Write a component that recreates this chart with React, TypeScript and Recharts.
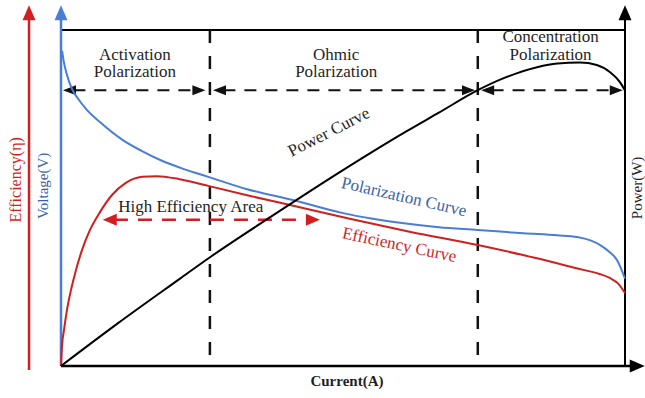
import { LineChart, Line, XAxis, YAxis, ReferenceLine, ReferenceDot } from "recharts";

const FONT = '"Liberation Serif", "Times New Roman", serif';
const RED = "#d11f1f";
const BLUE = "#4a7dd6";
const BLUE_TEXT = "#3a63a8";
const INK = "#1f1f1f";

// Current (A) — shared x scale 0..100, all curves normalised to 0..100 on y
const polCurrent = [0.2, 0.5, 1, 1.9, 3, 4.5, 6.9, 10.9, 14.2, 17.6, 21.8, 26.1, 33, 41.1, 50, 55, 60.1, 67, 73.9, 82, 88, 91.5, 94, 95.6, 97.2, 98.6, 100];
const polVoltage = [93.8, 90.5, 87, 82.6, 79.6, 76.4, 72.6, 67.3, 64.1, 61.3, 58.6, 56.3, 52.6, 49.4, 45.5, 43.9, 42.6, 41.3, 40.5, 39.5, 38.9, 38.4, 37.3, 36, 34, 31.5, 26];

const effCurrent = [0, 0.18, 0.53, 1.06, 1.77, 2.66, 3.72, 5.14, 6.91, 9.04, 11.5, 14.4, 17, 21, 23.5, 26.1, 33, 40.6, 51.2, 62, 73.9, 84, 92.6, 95.5, 97.3, 98.8, 100];
const efficiency = [0, 6, 10.7, 16.7, 22.6, 28.6, 34.5, 40.5, 45.8, 50.9, 54.5, 56.3, 56.5, 55.6, 54.7, 53.6, 50.8, 47.9, 43.8, 39.9, 36, 32.2, 28.6, 27.4, 26.2, 24.5, 21.7];

const powCurrent = [0, 10, 21.1, 26.1, 37.1, 50, 61.3, 67, 73.9, 78.4, 84.4, 88, 92, 95, 97.3, 99.1, 100];
const power = [0, 12.6, 26, 32, 44.3, 58.3, 69.9, 75.4, 82.1, 85.6, 88.9, 90, 90.3, 89.6, 87.5, 84.5, 82];

// region boundaries (current) and their labels
const regionBounds = [26.4, 73.9];
const regionLabels = [
  { lines: ["Activation", "Polarization"], x: 13.1, y: [91.1, 86.0] },
  { lines: ["Ohmic", "Polarization"], x: 48.8, y: [91.1, 86.0] },
  { lines: ["Concentration", "Polarization"], x: 86.8, y: [96.4, 91.1] },
];
// dashed double arrows under the region labels
const regionSpans = [
  [0.35, 25.6],
  [26.95, 73.4],
  [74.5, 99.6],
];
const regionArrowY = 82.1;
const highEffSpan = [7.4, 45.9];
const highEffY = 43.5;

const zip = (xs: number[], ys: number[]) => xs.map((x, i) => ({ x, y: ys[i] }));
const polData = zip(polCurrent, polVoltage);
const effData = zip(effCurrent, efficiency);
const powData = zip(powCurrent, power);

type ArrowOpts = { stroke: string; width: number; dash?: string; start?: boolean; end?: boolean; len?: number; half?: number };

// line with optional arrow heads, used as a ReferenceLine shape
const arrowShape = (o: ArrowOpts) => (p: any) => {
  const { x1, y1, x2, y2 } = p;
  const dx = x2 - x1, dy = y2 - y1;
  const d = Math.hypot(dx, dy) || 1;
  const ux = dx / d, uy = dy / d;
  const len = o.len ?? 13, half = o.half ?? 5.5;
  const head = (tx: number, ty: number, sx: number, sy: number) => {
    const bx = tx - sx * len, by = ty - sy * len;
    return `${tx},${ty} ${bx - sy * half},${by + sx * half} ${bx + sy * half},${by - sx * half}`;
  };
  const ax = o.start ? x1 + ux * len * 0.8 : x1;
  const ay = o.start ? y1 + uy * len * 0.8 : y1;
  const bx = o.end ? x2 - ux * len * 0.8 : x2;
  const by = o.end ? y2 - uy * len * 0.8 : y2;
  return (
    <g>
      <line x1={ax} y1={ay} x2={bx} y2={by} stroke={o.stroke} strokeWidth={o.width} strokeDasharray={o.dash} />
      {o.start && <polygon points={head(x1, y1, -ux, -uy)} fill={o.stroke} />}
      {o.end && <polygon points={head(x2, y2, ux, uy)} fill={o.stroke} />}
    </g>
  );
};

type TextOpts = { size?: number; color?: string; angle?: number; weight?: string };

const textShape = (str: string, o: TextOpts = {}) => (p: any) => (
  <text
    x={p.cx}
    y={p.cy}
    textAnchor="middle"
    fontFamily={FONT}
    fontSize={o.size ?? 17}
    fontWeight={o.weight ?? "normal"}
    fill={o.color ?? INK}
    transform={o.angle ? `rotate(${o.angle} ${p.cx} ${p.cy})` : undefined}
  >
    {str}
  </text>
);

const seg = (x1: number, y1: number, x2: number, y2: number) => [
  { x: x1, y: y1 },
  { x: x2, y: y2 },
];

export default function App() {
  return (
    <div style={{ position: "absolute", left: 0, top: 0, width: 645, height: 398, background: "#fff" }}>
      <LineChart width={645} height={398} margin={{ top: 30, right: 20, bottom: 32, left: 61 }}>
        <XAxis type="number" dataKey="x" domain={[0, 100]} hide />
        <YAxis type="number" domain={[0, 100]} hide />

        {/* frame and axes */}
        <ReferenceLine segment={seg(0, 100, 100, 100)} ifOverflow="visible" shape={arrowShape({ stroke: "#000", width: 2 })} />
        <ReferenceLine segment={seg(-5.67, -1.2, -5.67, 107.4)} ifOverflow="visible" shape={arrowShape({ stroke: RED, width: 2.5, end: true, len: 15, half: 6.5 })} />
        <ReferenceLine segment={seg(0, 0, 0, 107.4)} ifOverflow="visible" shape={arrowShape({ stroke: BLUE, width: 2.5, end: true, len: 15, half: 6.5 })} />
        <ReferenceLine segment={seg(100, 0, 100, 107.4)} ifOverflow="visible" shape={arrowShape({ stroke: "#000", width: 2, end: true, len: 15, half: 6.5 })} />
        <ReferenceLine segment={seg(0, 0, 103.5, 0)} ifOverflow="visible" shape={arrowShape({ stroke: "#000", width: 2.5, end: true, len: 15, half: 6.5 })} />

        {regionBounds.map((b) => (
          <ReferenceLine key={b} segment={seg(b, 100, b, 0)} ifOverflow="visible" shape={arrowShape({ stroke: "#111", width: 2.5, dash: "13 13" })} />
        ))}
        {regionSpans.map(([a, b]) => (
          <ReferenceLine
            key={a}
            segment={seg(a, regionArrowY, b, regionArrowY)}
            ifOverflow="visible"
            shape={arrowShape({ stroke: "#111", width: 2, dash: "12 9", start: true, end: true, len: 13, half: 5 })}
          />
        ))}
        <ReferenceLine
          segment={seg(highEffSpan[0], highEffY, highEffSpan[1], highEffY)}
          ifOverflow="visible"
          shape={arrowShape({ stroke: RED, width: 2.5, dash: "14 10", start: true, end: true, len: 14, half: 6 })}
        />

        <Line data={polData} dataKey="y" type="monotone" stroke={BLUE} strokeWidth={2} dot={false} isAnimationActive={false} />
        <Line data={effData} dataKey="y" type="monotone" stroke={RED} strokeWidth={2} dot={false} isAnimationActive={false} />
        <Line data={powData} dataKey="y" type="monotone" stroke="#000" strokeWidth={2} dot={false} isAnimationActive={false} />

        {regionLabels.flatMap((r) =>
          r.lines.map((t, i) => (
            <ReferenceDot key={t + r.x} x={r.x} y={r.y[i]} r={0} ifOverflow="visible" shape={textShape(t)} />
          ))
        )}
        <ReferenceDot x={23.0} y={45.8} r={0} ifOverflow="visible" shape={textShape("High Efficiency Area")} />
        <ReferenceDot x={47.9} y={68.2} r={0} ifOverflow="visible" shape={textShape("Power Curve", { angle: -27 })} />
        <ReferenceDot x={60.6} y={48.8} r={0} ifOverflow="visible" shape={textShape("Polarization Curve", { angle: 13, color: BLUE_TEXT })} />
        <ReferenceDot x={59.8} y={34.5} r={0} ifOverflow="visible" shape={textShape("Efficiency Curve", { angle: 12, color: RED })} />

        <ReferenceDot x={50.7} y={-6.0} r={0} ifOverflow="visible" shape={textShape("Current(A)", { size: 15, weight: "bold" })} />
        <ReferenceDot x={-7.1} y={55.4} r={0} ifOverflow="visible" shape={textShape("Efficiency(η)", { size: 16, angle: -90, color: RED })} />
        <ReferenceDot x={-2.3} y={53.6} r={0} ifOverflow="visible" shape={textShape("Voltage(V)", { size: 15, angle: -90, color: BLUE_TEXT })} />
        <ReferenceDot x={103.1} y={53.0} r={0} ifOverflow="visible" shape={textShape("Power(W)", { size: 15, angle: -90 })} />
      </LineChart>
    </div>
  );
}
